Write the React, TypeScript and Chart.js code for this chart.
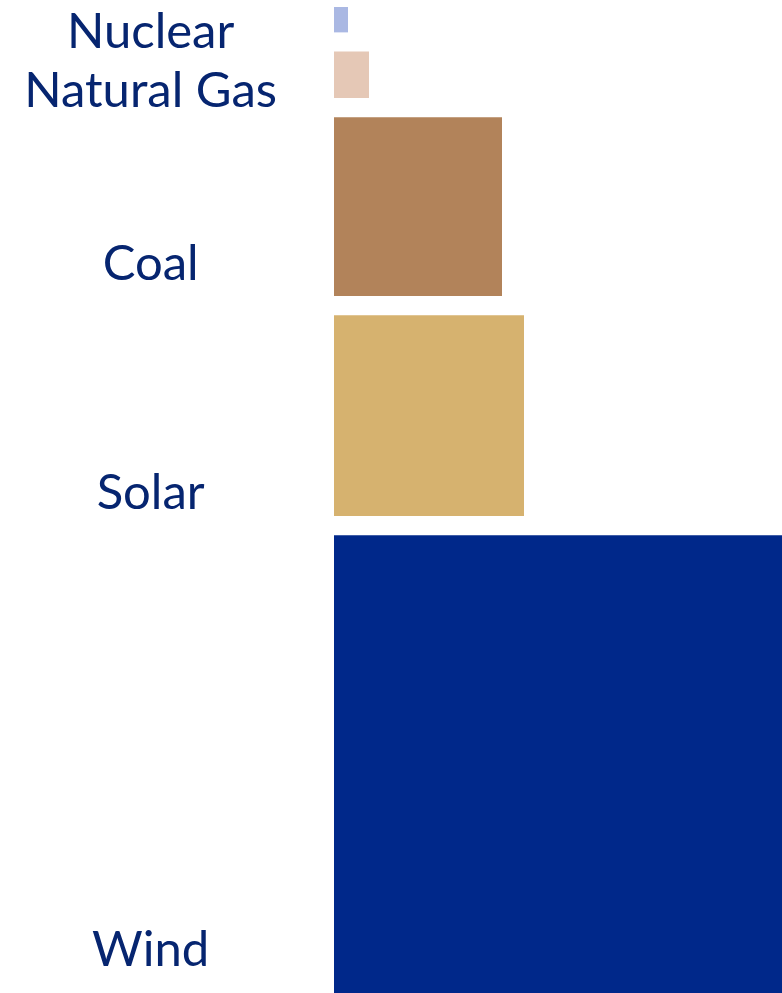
import React, { useEffect, useRef } from "react";
import { Chart, registerables } from "chart.js";

Chart.register(...registerables);

// Data
const categories = ["Nuclear", "Natural Gas", "Coal", "Solar", "Wind"];
const capacity = [14, 35, 168, 190, 448];
const barColors = ["#aab8e3", "#e5c8b6", "#b2835a", "#d6b26f", "#00288a"];
// label anchor positions on the vertical (band) axis
const labelTicks = [32, 92, 265, 495, 954];

// band layout constants (in axis units)
const TOP_OFFSET = 7;
const BAND_PAD = 11.5;
const BAND_GAP = 19.3;

export default function App() {
  const ref = useRef<HTMLCanvasElement | null>(null);

  useEffect(() => {
    document.body.style.margin = "0";
    const canvas = ref.current;
    if (!canvas) return;

    let cursor = TOP_OFFSET;
    const bands = capacity.map((v) => {
      const top = cursor;
      const bottom = top + v + BAND_PAD;
      cursor = bottom + BAND_GAP;
      return { top, bottom };
    });
    const yMax = bands[bands.length - 1].bottom;

    const datasets = categories.map((c, i) => ({
      label: c,
      data: [
        { x: 0, y: bands[i].top },
        { x: capacity[i], y: bands[i].top },
      ],
      fill: { value: bands[i].bottom },
      backgroundColor: barColors[i],
      borderColor: "rgba(0,0,0,0)",
      borderWidth: 0,
      pointRadius: 0,
      pointHoverRadius: 0,
      tension: 0,
    }));

    const chart = new Chart(canvas, {
      type: "line",
      data: { datasets },
      options: {
        animation: false,
        responsive: false,
        devicePixelRatio: 1,
        events: [],
        layout: { padding: 0 },
        plugins: {
          legend: { display: false },
          tooltip: { enabled: false },
          title: { display: false },
        },
        scales: {
          x: {
            type: "linear",
            display: false,
            min: 0,
            max: Math.max(...capacity),
          },
          y: {
            type: "linear",
            reverse: true,
            min: 0,
            max: yMax,
            grid: { display: false, drawTicks: false },
            border: { display: false },
            ticks: {
              autoSkip: false,
              crossAlign: "center",
              padding: 57,
              color: "#062570",
              font: { family: "Lato", size: 49 },
              callback: (_v: any, i: number) => categories[i],
            },
            afterBuildTicks: (scale: any) => {
              scale.ticks = labelTicks.map((v) => ({ value: v }));
            },
            afterFit: (scale: any) => {
              scale.width = 334;
              scale.paddingTop = 0;
              scale.paddingBottom = 0;
            },
          },
        },
      },
    });

    return () => chart.destroy();
  }, []);

  return (
    <div style={{ position: "absolute", left: 0, top: 0, width: 782, height: 993 }}>
      <canvas ref={ref} width={782} height={993} />
    </div>
  );
}
